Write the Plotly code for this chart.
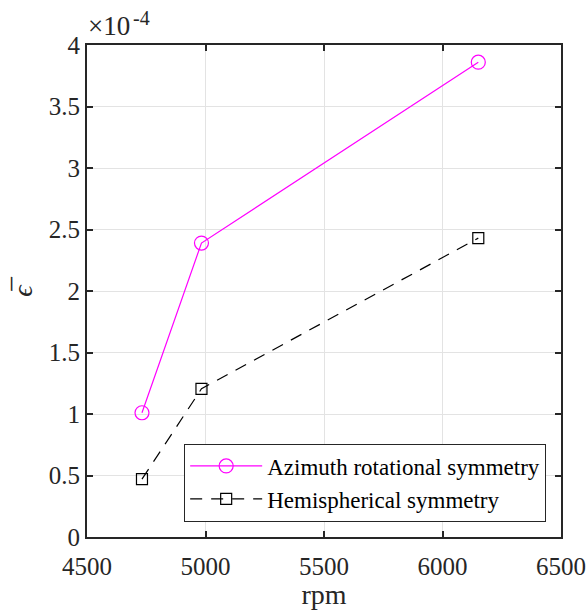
import plotly.graph_objects as go

rpm = [4732, 4983, 6151]
azimuth = [1.01, 2.39, 3.86]      # x 1e-4
hemi = [0.47, 1.205, 2.43]        # x 1e-4
xticks = [4500, 5000, 5500, 6000, 6500]
yticks = [0, 0.5, 1, 1.5, 2, 2.5, 3, 3.5, 4]

font_family = "Liberation Serif"

fig = go.Figure()
fig.add_trace(go.Scatter(
    x=rpm, y=azimuth, mode="lines+markers", name="Azimuth rotational symmetry",
    line=dict(color="#ff00ff", width=1.2),
    marker=dict(symbol="circle-open", size=14, color="#ff00ff", line=dict(width=1.2)),
))
fig.add_trace(go.Scatter(
    x=rpm, y=hemi, mode="lines+markers", name="Hemispherical symmetry",
    line=dict(color="black", width=1.2, dash="12px,9px"),
    marker=dict(symbol="square-open", size=11, color="black", line=dict(width=1.2)),
))

axis_common = dict(
    showgrid=True, gridcolor="#e3e3e3", gridwidth=1,
    showline=True, linecolor="#262626", linewidth=2, mirror="ticks",
    ticks="inside", ticklen=6, tickwidth=2, tickcolor="#262626",
    zeroline=False, automargin=False,
    tickfont=dict(family=font_family, size=25, color="#262626"),
)

fig.update_layout(
    width=588, height=610,
    margin=dict(l=87, r=27, t=45, b=73),
    paper_bgcolor="white", plot_bgcolor="white",
    font=dict(family=font_family, color="#262626"),
    xaxis=dict(range=[4500, 6500], tickvals=xticks, ticktext=[str(v) for v in xticks],
               ticklabelstandoff=6,
               title=dict(text="rpm", font=dict(family=font_family, size=28), standoff=4),
               **axis_common),
    yaxis=dict(range=[0, 4], tickvals=yticks, ticktext=[("%g" % v) for v in yticks],
               title=dict(text="<i>ϵ̅</i>", font=dict(family=font_family, size=28), standoff=8),
               **axis_common),
    legend=dict(
        x=0.205, y=0.19, xanchor="left", yanchor="top",
        bgcolor="white", bordercolor="#262626", borderwidth=1,
        font=dict(family=font_family, size=23, color="black"),
        itemwidth=72, tracegroupgap=0,
    ),
    showlegend=True,
)

fig.add_annotation(
    xref="paper", yref="paper", x=0.0, y=1.0, xanchor="left", yanchor="bottom",
    text="×10", showarrow=False,
    font=dict(family=font_family, size=27, color="#262626"), yshift=2, xshift=-1,
)
fig.add_annotation(
    xref="paper", yref="paper", x=0.0, y=1.0, xanchor="left", yanchor="bottom",
    text="-4", showarrow=False,
    font=dict(family=font_family, size=20, color="#262626"), yshift=14, xshift=44,
)

fig.write_html("out.html")
